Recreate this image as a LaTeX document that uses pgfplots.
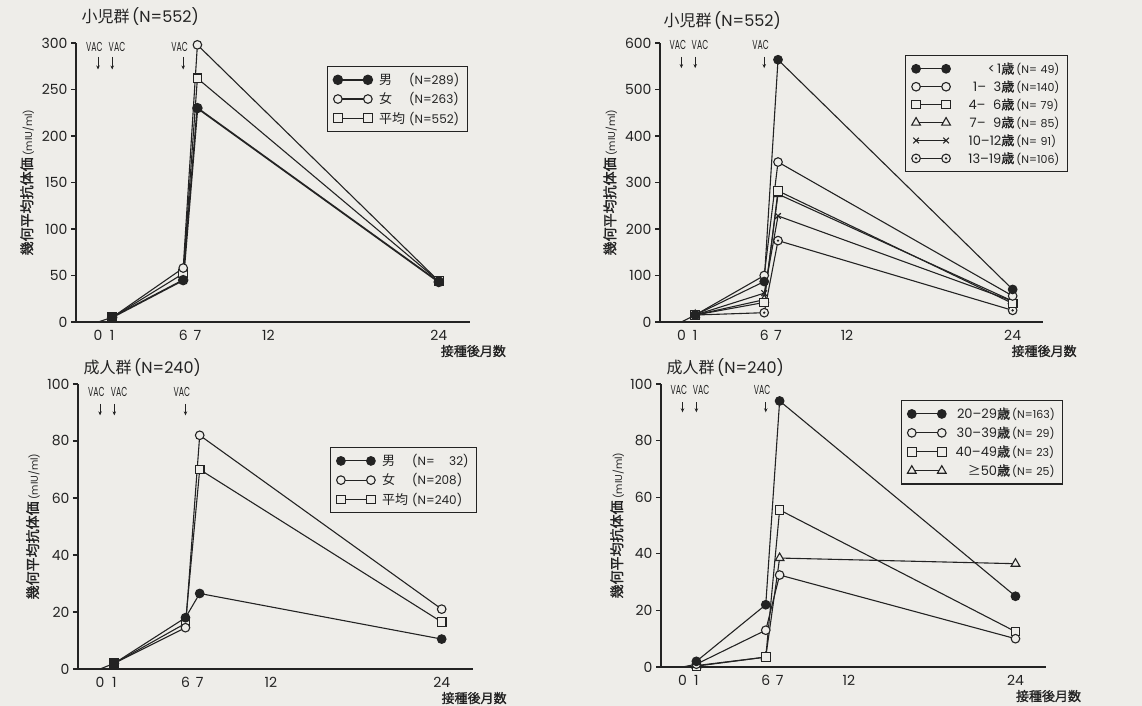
\documentclass[border=0pt]{standalone}
\usepackage{fontspec}
\setmainfont{Poppins}
\newfontfamily\cjk{Noto Sans CJK JP}
\newfontfamily\cjkb{Noto Sans CJK JP}[FakeBold=1.5]
\usepackage{pgfplots}
\pgfplotsset{compat=1.18}
\usetikzlibrary{arrows.meta}
\definecolor{ink}{RGB}{35,35,35}
\definecolor{paper}{RGB}{238,237,233}

\pgfdeclareplotmark{odot}{%
  \pgfpathcircle{\pgfpointorigin}{\pgfplotmarksize}%
  \pgfusepathqfillstroke
  \begin{pgfscope}%
  \pgfsetfillcolor{ink}%
  \pgfpathcircle{\pgfpointorigin}{0.3\pgfplotmarksize}%
  \pgfusepathqfill
  \end{pgfscope}}

\tikzset{
  vac/.style={font=\fontsize{13}{13}\selectfont, text=ink, inner sep=0pt, xscale=0.6},
  vacarrow/.style={draw=ink, line width=1pt, -{Stealth[length=4pt,width=3.5pt]}},
}

\pgfplotsset{panel/.style={
  scale only axis, clip=false,
  axis lines*=left, axis line style={ink, line width=1.3pt},
  xmin=-1.55, xmax=26.2, ymin=0,
  xtick={0,1,6,7,12,24},
  xtick style={draw=none},
  ytick style={ink, line width=1.2pt},
  tick align=outside, major tick length=5pt,
  ticklabel style={font=\fontsize{14}{16}\selectfont, text=ink},
  /pgf/number format/assume math mode=true,
  every axis plot/.append style={ink, line width=1.1pt, mark size=4.3pt, mark options={fill=paper, line width=1.1pt, solid}},
  legend image code/.code={\draw[##1] plot coordinates {(0pt,0pt) (30pt,0pt)};},
  legend cell align=left,
  reverse legend,
  legend style={draw=ink, line width=1.2pt, fill=paper, text=ink, font=\fontsize{12}{14}\selectfont, anchor=north west, inner xsep=6pt, inner ysep=5pt, row sep=2.5pt},
}}

\newcommand\vacs[3]{%
  \node[vac, xshift=-6pt] at ({axis cs:0,0} |- {axis description cs:0,#1}) {VAC};
  \node[vac, xshift=8pt] at ({axis cs:1,0} |- {axis description cs:0,#1}) {VAC};
  \node[vac, xshift=-6pt] at ({axis cs:6,0} |- {axis description cs:0,#1}) {VAC};
  \draw[vacarrow] ({axis cs:0,0} |- {axis description cs:0,#2}) -- ({axis cs:0,0} |- {axis description cs:0,#3});
  \draw[vacarrow] ({axis cs:1,0} |- {axis description cs:0,#2}) -- ({axis cs:1,0} |- {axis description cs:0,#3});
  \draw[vacarrow] ({axis cs:6,0} |- {axis description cs:0,#2}) -- ({axis cs:6,0} |- {axis description cs:0,#3});
}
\newcommand\ylab[1]{%
  \node[rotate=90, anchor=center, text=ink] at (axis description cs:#1,0.5)
    {{\cjkb\fontsize{14}{14}\selectfont 幾何平均抗体価}\,{\fontsize{10}{10}\selectfont (mIU/ml)}};}
\newcommand\xlab[1]{%
  \node[anchor=base east, text=ink, yshift=-34pt] at (axis description cs:#1,0)
    {\cjkb\fontsize{13}{13}\selectfont 接種後月数};}
\newcommand\ttl[3]{%
  \node[anchor=base west, text=ink, xshift=#2, yshift=#3, font=\fontsize{16}{16}\selectfont] at (axis description cs:0,1) {#1};}
\newcommand\sx[2]{\hspace*{5pt}\makebox[30pt][l]{\cjk\fontsize{13}{13}\selectfont #1}(N=#2)}
\newcommand\ag[2]{\makebox[62pt][r]{\fontsize{13}{13}\selectfont #1{\cjkb 歳}}\,{\fontsize{11}{11}\selectfont(N=#2)}}

\begin{document}
\begin{tikzpicture}[x=1pt,y=1pt]
\path[use as bounding box, fill=paper] (0,0) rectangle (1142,706);

% ---------- panel 1 ----------
\begin{axis}[panel, at={(76pt,384pt)}, anchor=south west, width=394pt, height=279pt,
  ymax=300, ytick={0,50,...,300}, legend style={at={(0.637,0.918)}}]
\addplot[forget plot] coordinates {(0,0) (1,5)};
\addplot[mark=square*] coordinates {(1,5) (6,52) (7,262) (24,44)};
\addlegendentry{\sx{平均}{552}}
\addplot[mark=*] coordinates {(1,5) (6,58) (7,298) (24,44)};
\addlegendentry{\sx{女}{263}}
\addplot[mark=*, line width=1.8pt, mark options={fill=ink}] coordinates {(1,5) (6,45) (7,230) (24,43)};
\addlegendentry{\sx{男}{289}}
\vacs{0.986}{0.95}{0.905}
\ylab{-0.124}
\xlab{1.10}
\ttl{{\cjk 小児群}\,(N=552)}{2pt}{20pt}
\end{axis}

% ---------- panel 2 ----------
\begin{axis}[panel, at={(660pt,384pt)}, anchor=south west, width=383pt, height=279pt,
  ymax=600, ytick={0,100,...,600}, legend style={at={(0.64,0.957)}, row sep=1.5pt}]
\addplot[forget plot] coordinates {(0,0) (1,15)};
\addplot[mark=odot] coordinates {(1,15) (6,20) (7,175) (24,25)};
\addlegendentry{\ag{13--19}{106}}
\addplot[mark=x, mark size=4pt] coordinates {(1,15) (6,62) (7,228) (24,45)};
\addlegendentry{\ag{10--12}{\phantom{1}91}}
\addplot[mark=triangle*, mark size=5pt] coordinates {(1,15) (6,48) (7,275) (24,45)};
\addlegendentry{\ag{7-- \phantom{1}9}{\phantom{1}85}}
\addplot[mark=square*] coordinates {(1,15) (6,42) (7,282) (24,40)};
\addlegendentry{\ag{4-- \phantom{1}6}{\phantom{1}79}}
\addplot[mark=*] coordinates {(1,15) (6,100) (7,344) (24,56)};
\addlegendentry{\ag{1-- \phantom{1}3}{140}}
\addplot[mark=*, mark options={fill=ink}] coordinates {(1,15) (6,87) (7,564) (24,70)};
\addlegendentry{\ag{<\,1}{\phantom{1}49}}
\vacs{0.993}{0.95}{0.91}
\ylab{-0.13}
\xlab{1.097}
\ttl{{\cjk 小児群}\,(N=552)}{0pt}{16pt}
\end{axis}

% ---------- panel 3 ----------
\begin{axis}[panel, at={(78pt,37pt)}, anchor=south west, width=395pt, height=285pt,
  ymax=100, ytick={0,20,...,100}, legend style={at={(0.638,0.779)}}]
\addplot[forget plot] coordinates {(0,0) (1,2)};
\addplot[mark=square*] coordinates {(1,2) (6,16) (7,70) (24,16.5)};
\addlegendentry{\sx{平均}{240}}
\addplot[mark=*] coordinates {(1,2) (6,14.5) (7,82) (24,21)};
\addlegendentry{\sx{女}{208}}
\addplot[mark=*, mark options={fill=ink}] coordinates {(1,2) (6,18) (7,26.5) (24,10.5)};
\addlegendentry{\sx{男}{\phantom{20}32}}
\vacs{0.972}{0.93}{0.89}
\ylab{-0.114}
\xlab{1.094}
\ttl{{\cjk 成人群}\,(N=240)}{2pt}{10pt}
\end{axis}

% ---------- panel 4 ----------
\begin{axis}[panel, at={(661pt,39pt)}, anchor=south west, width=385pt, height=283pt,
  ymax=100, ytick={0,20,...,100}, legend style={at={(0.623,0.943)}}]
\addplot[forget plot] coordinates {(0,0) (1,1)};
\addplot[mark=triangle*, mark size=5pt] coordinates {(1,0.5) (6,3.5) (7,38.5) (24,36.5)};
\addlegendentry{\ag{{\cjk ≥}50}{\phantom{1}25}}
\addplot[mark=square*] coordinates {(1,0.3) (6,3.5) (7,55.5) (24,12.5)};
\addlegendentry{\ag{40--49}{\phantom{1}23}}
\addplot[mark=*] coordinates {(1,1) (6,13) (7,32.5) (24,10)};
\addlegendentry{\ag{30--39}{\phantom{1}29}}
\addplot[mark=*, mark options={fill=ink}] coordinates {(1,2) (6,22) (7,94) (24,25)};
\addlegendentry{\ag{20--29}{163}}
\vacs{0.979}{0.936}{0.90}
\ylab{-0.114}
\xlab{1.10}
\ttl{{\cjk 成人群}\,(N=240)}{2pt}{10pt}
\end{axis}
\end{tikzpicture}
\end{document}
